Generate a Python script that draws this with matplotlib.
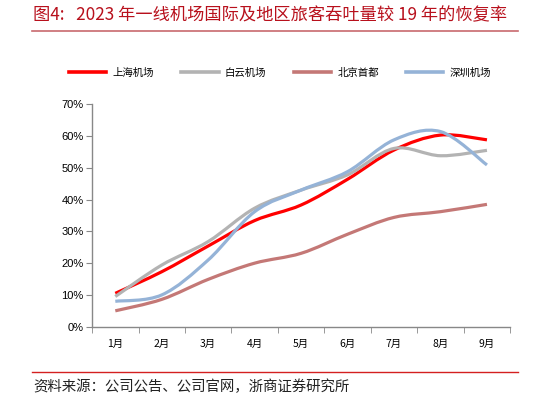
import numpy as np
import matplotlib.pyplot as plt
from matplotlib.path import Path
from matplotlib.patches import PathPatch
from matplotlib.lines import Line2D

plt.rcParams['font.family'] = ['Noto Sans CJK SC', 'DejaVu Sans']

months = ['1月', '2月', '3月', '4月', '5月', '6月', '7月', '8月', '9月']
shanghai = [0.105, 0.173, 0.254, 0.334, 0.383, 0.464, 0.556, 0.603, 0.588]
baiyun = [0.095, 0.194, 0.268, 0.373, 0.430, 0.478, 0.561, 0.538, 0.555]
beijing = [0.050, 0.086, 0.149, 0.200, 0.231, 0.291, 0.344, 0.362, 0.385]
shenzhen = [0.080, 0.100, 0.210, 0.362, 0.430, 0.488, 0.588, 0.614, 0.509]
names = ['上海机场', '白云机场', '北京首都', '深圳机场']
colors = ['#FF0000', '#B3B3B3', '#C47876', '#95B3D7']


def smooth_path(x, y):
    # Excel style smoothed line: Catmull-Rom segments as cubic Bezier
    x = np.asarray(x, float)
    y = np.asarray(y, float)
    verts = [(x[0], y[0])]
    codes = [Path.MOVETO]
    n = len(x)
    for i in range(n - 1):
        i0 = max(i - 1, 0)
        i3 = min(i + 2, n - 1)
        c1 = (x[i] + (x[i + 1] - x[i0]) / 6, y[i] + (y[i + 1] - y[i0]) / 6)
        c2 = (x[i + 1] - (x[i3] - x[i]) / 6, y[i + 1] - (y[i3] - y[i]) / 6)
        verts += [c1, c2, (x[i + 1], y[i + 1])]
        codes += [Path.CURVE4] * 3
    return Path(verts, codes)


fig = plt.figure(figsize=(5.48, 4.03), dpi=100)
ax = fig.add_axes([0.168, 0.1893, 0.763, 0.552])

xs = np.arange(len(months)) + 0.5
handles = []
for vals, name, c in zip([shanghai, baiyun, beijing, shenzhen], names, colors):
    patch = PathPatch(smooth_path(xs, vals), facecolor='none', edgecolor=c,
                      lw=2.3, capstyle='butt', joinstyle='round')
    ax.add_patch(patch)
    handles.append(Line2D([], [], color=c, lw=2.6, label=name))

ax.set_xlim(0, len(months))
ax.set_ylim(0, 0.7)
ax.set_yticks(np.arange(0, 0.71, 0.1))
ax.set_yticklabels([f'{int(round(v * 100))}%' for v in np.arange(0, 0.71, 0.1)],
                   family=['Liberation Sans', 'DejaVu Sans'], fontsize=8)
ax.set_xticks(xs)
ax.set_xticklabels(months, fontsize=7.5)
ax.set_xticks(np.arange(0, len(months) + 1), minor=True)
ax.tick_params(axis='x', which='major', length=0, pad=9)
ax.tick_params(axis='x', which='minor', length=4, color='#888888', direction='out')
ax.tick_params(axis='y', length=4, color='#888888', direction='out', pad=2)
for s in ['top', 'right']:
    ax.spines[s].set_visible(False)
for s in ['left', 'bottom']:
    ax.spines[s].set_color('#888888')
    ax.spines[s].set_linewidth(1.0)

fig.legend(handles=handles, loc='center', bbox_to_anchor=(0.511, 0.819), ncol=4,
           frameon=False, fontsize=7.5, handlelength=3.6, columnspacing=2.6,
           handletextpad=0.6)

fig.text(0.06, 0.962, '图4:   2023 年一线机场国际及地区旅客吞吐量较 19 年的恢复率',
         color='#B8101C', fontsize=12.4, va='center', ha='left')
fig.add_artist(Line2D([0.058, 0.945], [0.923, 0.923], color='#C86A6E', lw=1.2))
fig.add_artist(Line2D([0.058, 0.945], [0.077, 0.077], color='#D42020', lw=1.0))
fig.text(0.06, 0.041, '资料来源：公司公告、公司官网，浙商证券研究所',
         color='#222222', fontsize=10.4, va='center', ha='left')

fig.savefig('out.png', dpi=100)
